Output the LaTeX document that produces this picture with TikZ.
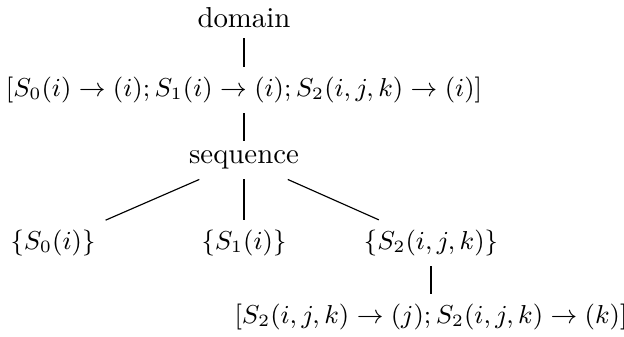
\documentclass[tikz,border=0pt]{standalone}
\usepackage{amsmath}
\usetikzlibrary{positioning}
\tikzset{formula/.style={font=\small}}

\begin{document}
\begin{tikzpicture}[x=0.347pt, y=-0.347pt]
    \useasboundingbox (0, 0) rectangle (624, 336);

    \node (domain) at (244, 18) {domain};
    \node [formula] (maps) at (244, 90) {$[S_0(i) \to (i); S_1(i) \to (i); S_2(i, j, k) \to (i)]$};
    \node (sequence) at (244, 160) {sequence};

    \node [formula] (s0) at (53, 243) {$\{S_0(i)\}$};
    \node [formula] (s1) at (244, 243) {$\{S_1(i)\}$};
    \node [formula] (s2) at (431, 243) {$\{S_2(i, j, k)\}$};

    \node [formula] (innermaps) at (431, 317) {$[S_2(i, j, k) \to (j); S_2(i, j, k) \to (k)]$};

    \draw (domain) -- (maps);
    \draw (maps) -- (sequence);
    \draw (sequence) -- (s0);
    \draw (sequence) -- (s1);
    \draw (sequence) -- (s2);
    \draw (s2) -- (innermaps);
\end{tikzpicture}
\end{document}
